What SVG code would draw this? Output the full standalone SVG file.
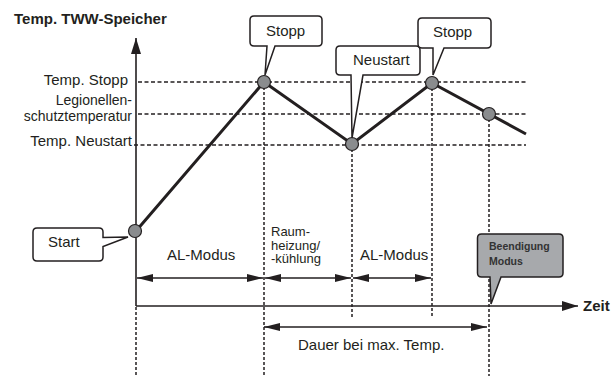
<svg xmlns="http://www.w3.org/2000/svg" width="612" height="376" viewBox="0 0 612 376">
<defs>
<style>
text{font-family:"Liberation Sans",Arial,sans-serif;fill:#231f20;font-size:15px}
.b{font-weight:bold}
.ml{font-size:14px}
.rh{font-size:13px}
.sm{font-size:10.5px;font-weight:bold;fill:#333}
.ax{stroke:#231f20;stroke-width:1.6;fill:none}
.hd{stroke:#231f20;stroke-width:1.5;stroke-dasharray:4 2.5;fill:none}
.vd{stroke:#231f20;stroke-width:1.5;stroke-dasharray:3 2;fill:none}
.gl{stroke:#231f20;stroke-width:3;fill:none;stroke-linejoin:miter}
.pt{fill:#8a8c8e;stroke:#231f20;stroke-width:1.2}
.co{fill:#fff;stroke:#231f20;stroke-width:1.5}
.cog{fill:#a7a9ac;stroke:#231f20;stroke-width:1.5}
</style>
<marker id="ah" viewBox="0 0 16 8" refX="16" refY="4" markerWidth="16" markerHeight="8" markerUnits="userSpaceOnUse" orient="auto-start-reverse">
<path d="M0,0 L16,4 L0,8 Z" fill="#231f20"/>
</marker>
<marker id="ahb" viewBox="0 0 16 10" refX="16" refY="5" markerWidth="16" markerHeight="10" markerUnits="userSpaceOnUse" orient="auto">
<path d="M0,0 L16,5 L0,10 Z" fill="#231f20"/>
</marker>
</defs>

<g id="grid">
<path class="hd" d="M138,82 H526 M138,114 H526 M134,145 H526"/>
<path class="vd" d="M136,307 V376 M264,82 V376 M352,144 V318 M432,83 V318 M489,114 V376"/>
</g>

<g id="axes">
<path class="ax" d="M136,306 V38" marker-end="url(#ahb)"/>
<path class="ax" d="M136,306 H578" marker-end="url(#ahb)"/>
<text x="14" y="24" class="b">Temp. TWW-Speicher</text>
<text x="583" y="311" class="b">Zeit</text>
<text x="128" y="85" text-anchor="end">Temp. Stopp</text>
<text x="132" y="105" text-anchor="end" class="ml">Legionellen-</text>
<text x="132" y="121" text-anchor="end" class="ml">schutztemperatur</text>
<text x="132" y="146" text-anchor="end">Temp. Neustart</text>
</g>

<g id="connectors">
<path class="gl" d="M136,231 L264,82 L352,144 L432,83 L526,134"/>
<path class="ax" d="M137,278 H263" marker-start="url(#ah)" marker-end="url(#ah)"/>
<path class="ax" d="M265,278 H351" marker-start="url(#ah)" marker-end="url(#ah)"/>
<path class="ax" d="M353,278 H431" marker-start="url(#ah)" marker-end="url(#ah)"/>
<path class="ax" d="M264,327 H487" marker-start="url(#ah)" marker-end="url(#ah)"/>
</g>

<g id="points">
<circle class="pt" cx="135" cy="231" r="6.5"/>
<circle class="pt" cx="264" cy="82" r="6.5"/>
<circle class="pt" cx="352" cy="144" r="6.5"/>
<circle class="pt" cx="432" cy="83" r="6.5"/>
<circle class="pt" cx="489" cy="114" r="6.5"/>
</g>

<g id="labels">
<text x="271" y="236" class="rh">Raum-</text>
<text x="271" y="249.5" class="rh">heizung/</text>
<text x="271" y="263" class="rh">-kühlung</text>
<text x="167" y="260">AL-Modus</text>
<text x="360" y="260">AL-Modus</text>
<text x="298" y="350">Dauer bei max. Temp.</text>
</g>

<g id="callout-stopp1">
<path class="co" d="M254,16 H318 Q322,16 322,20 V42 Q322,46 318,46 H275 L265,75 L267,46 H254 Q250,46 250,42 V20 Q250,16 254,16 Z"/>
<text x="266" y="36">Stopp</text>
</g>
<g id="callout-neustart">
<path class="co" d="M340,46 H416 Q420,46 420,50 V71 Q420,75 416,75 H363 L352,138 L351,75 H340 Q336,75 336,71 V50 Q336,46 340,46 Z"/>
<text x="353" y="65">Neustart</text>
</g>
<g id="callout-stopp2">
<path class="co" d="M422,18 H487 Q491,18 491,22 V44 Q491,48 487,48 H444 L433,75 L433,48 H422 Q418,48 418,44 V22 Q418,18 422,18 Z"/>
<text x="433" y="37">Stopp</text>
</g>
<g id="callout-start">
<path class="co" d="M37,228 H99 Q103,228 103,232 V237.5 L128,237 L103,246.5 V257 Q103,261 99,261 H37 Q33,261 33,257 V232 Q33,228 37,228 Z"/>
<text x="48" y="247">Start</text>
</g>
<g id="callout-beendigung">
<path class="cog" d="M481.5,234 H559 Q563,234 563,238 V273 Q563,277 559,277 H501 L491,304 L490,277 H481.5 Q477.5,277 477.5,273 V238 Q477.5,234 481.5,234 Z"/>
<text x="489" y="250" class="sm">Beendigung</text>
<text x="489" y="265" class="sm">Modus</text>
</g>
</svg>
